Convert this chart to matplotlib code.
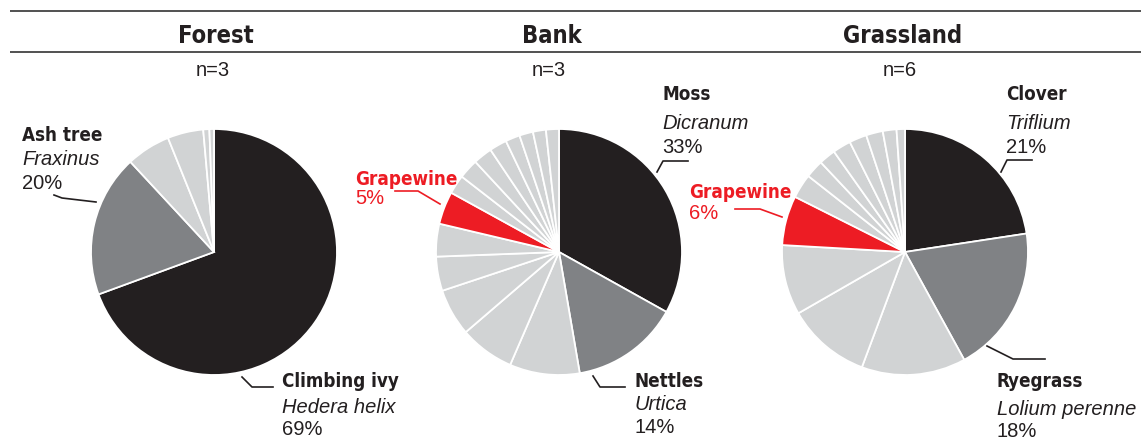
import matplotlib
matplotlib.use("Agg")
import matplotlib.pyplot as plt
from matplotlib import font_manager

# Data: wedge shares (clockwise from 12 o'clock)
habitats = ["Forest", "Bank", "Grassland"]
n_labels = ["n=3", "n=3", "n=6"]
forest_sizes = [69.4, 18.7, 5.8, 4.7, 0.8, 0.6]
bank_sizes = [33.1, 14.2, 9.2, 7.2, 6.2, 4.5, 4.3, 4.3, 2.5, 2.6, 2.5, 2.3, 1.9, 1.8, 1.7, 1.7]
grass_sizes = [22.6, 19.4, 13.7, 11.0, 9.2, 6.5, 3.2, 2.4, 2.2, 2.4, 2.3, 2.2, 1.8, 1.1]
red_index = [None, 7, 5]   # grapewine wedge

BLACK = "#231f20"
DARK = "#808285"
LIGHT = "#d1d3d4"
RED = "#ed1c24"

# look for the narrowest bold face installed, else fall back
rank = {"ultra-condensed": 5, "extra-condensed": 4, "condensed": 3, "semi-condensed": 2}
best, best_score = None, 0
for f in font_manager.fontManager.ttflist:
    nm = f.name.lower()
    if f.weight not in ("bold", 700):
        continue
    if f.style != "normal":
        continue
    score = rank.get(f.stretch, 0)
    if score == 0 and ("condensed" in nm or "narrow" in nm):
        score = 3
    if score > best_score:
        best, best_score = f, score

if best is not None:
    BOLD = dict(fontproperties=font_manager.FontProperties(fname=best.fname))
    bscale = 1.0
else:
    BOLD = dict(family="DejaVu Sans", weight="bold")
    bscale = 0.78
REG = ["Liberation Sans", "DejaVu Sans"]

W, H = 1141, 439
fig = plt.figure(figsize=(W / 100, H / 100), dpi=100)

# pies in pixel placement
centers = [(214, 253), (559, 253), (905, 253)]
R = 123
for sizes, (cx, cy), ri in zip([forest_sizes, bank_sizes, grass_sizes], centers, red_index):
    ax = fig.add_axes([(cx - R) / W, (H - cy - R) / H, 2 * R / W, 2 * R / H])
    cols = [BLACK, DARK] + [LIGHT] * (len(sizes) - 2)
    if ri is not None:
        cols[ri] = RED
    ax.pie(sizes, colors=cols, startangle=90, counterclock=False, radius=1,
           wedgeprops=dict(edgecolor="white", linewidth=1.3))
    ax.set_xlim(-1, 1)
    ax.set_ylim(-1, 1)
    ax.set_aspect("auto")
    ax.axis("off")

# overlay in pixel coords for rules, titles and labels
ov = fig.add_axes([0, 0, 1, 1], zorder=5)
ov.set_xlim(0, W)
ov.set_ylim(H, 0)
ov.axis("off")
ov.patch.set_alpha(0)

for y in [12, 53]:
    ov.plot([10, W], [y, y], color="#333333", lw=1.2, solid_capstyle="butt")


def btext(x, y, s, size, **kw):
    t = ov.text(x, y, s, va="baseline", **BOLD, **kw)
    t.set_fontsize(size * bscale)
    return t


title_x = [216, 552, 903]
for name, nl, x in zip(habitats, n_labels, title_x):
    btext(x, 43, name, 17, ha="center", color=BLACK)
    ov.text(x - 3, 76, nl, family=REG, fontsize=14.5, ha="center", va="baseline", color=BLACK)


def label(x, y0, name, latin, pct, color=BLACK, gaps=(24, 24)):
    btext(x, y0, name, 13.5, ha="left", color=color)
    y = y0
    if latin:
        y += gaps[0]
        ov.text(x, y, latin, family=REG, style="italic", fontsize=14.5, ha="left", va="baseline", color=color)
    y += gaps[1]
    ov.text(x, y, pct, family=REG, fontsize=14.5, ha="left", va="baseline", color=color)


def leader(pts, color=BLACK):
    ov.plot([p[0] for p in pts], [p[1] for p in pts], color=color, lw=1.2)


# Forest
label(22, 141, "Ash tree", "Fraxinus", "20%")
leader([(54, 196), (62, 199), (96, 203)])
label(282, 387, "Climbing ivy", "Hedera helix", "69%", gaps=(26, 22))
leader([(242, 378), (252, 388), (273, 388)])

# Bank
label(662, 100, "Moss", "Dicranum", "33%", gaps=(29, 24))
leader([(657, 173), (663, 162), (688, 162)])
label(634, 387, "Nettles", "Urtica", "14%", gaps=(23, 23))
leader([(593, 377), (600, 388), (625, 388)])
label(355, 185, "Grapewine", None, "5%", color=RED, gaps=(0, 19))
leader([(395, 192), (418, 192), (440, 205)], color=RED)

# Grassland
label(1006, 100, "Clover", "Triflium", "21%", gaps=(29, 24))
leader([(1001, 173), (1007, 161), (1032, 161)])
label(997, 387, "Ryegrass", "Lolium perenne", "18%", gaps=(28, 22))
leader([(987, 347), (1013, 360), (1045, 360)])
label(689, 198, "Grapewine", None, "6%", color=RED, gaps=(0, 21))
leader([(735, 210), (760, 210), (782, 218)], color=RED)

fig.savefig("out.png", dpi=100, facecolor="white")
